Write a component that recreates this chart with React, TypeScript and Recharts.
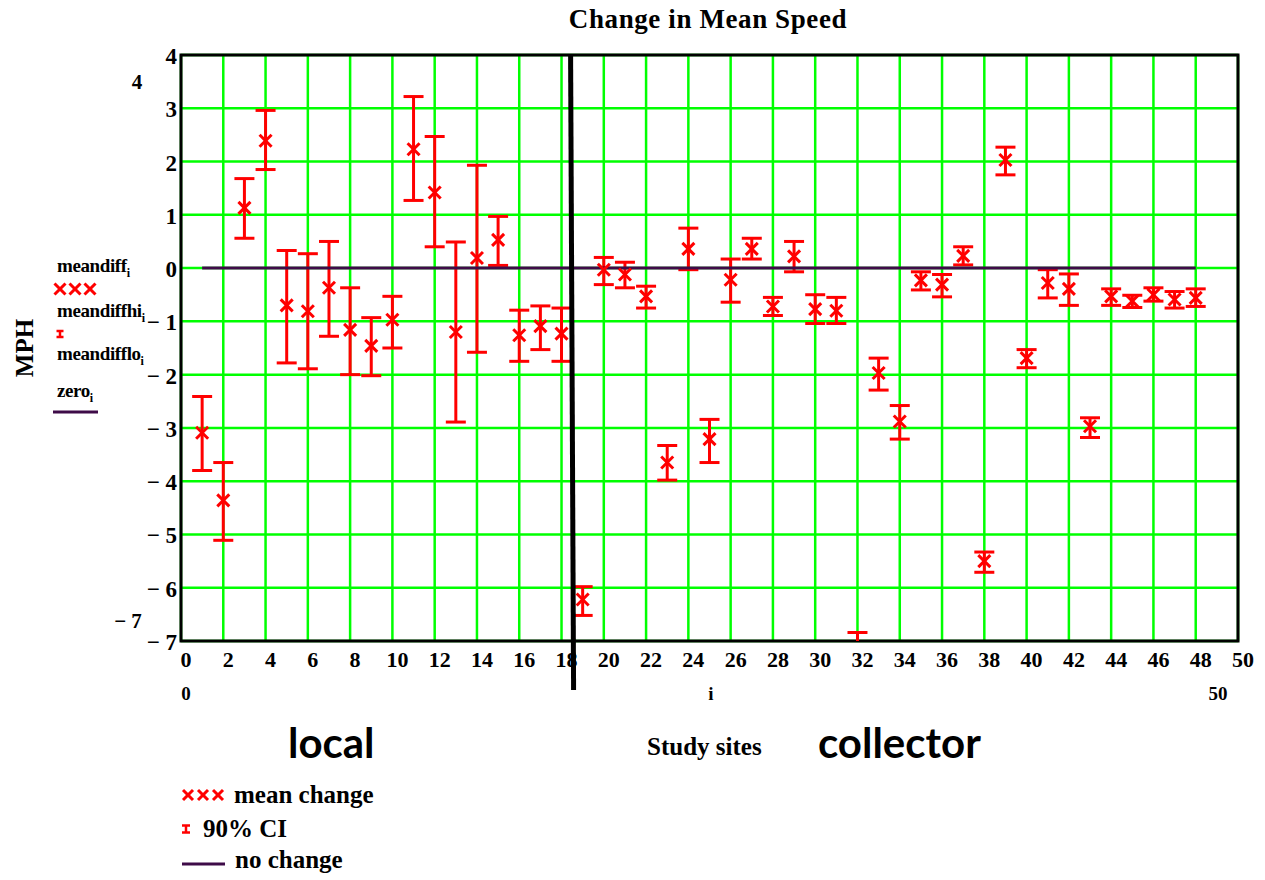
import React from "react";
import {
  ComposedChart,
  Scatter,
  Line,
  XAxis,
  YAxis,
  CartesianGrid,
  ErrorBar,
  ReferenceLine,
  ReferenceArea
} from "recharts";

// study site index
const sites = [
  1, 2, 3, 4, 5, 6, 7, 8, 9, 10, 11, 12, 13, 14, 15, 16, 17, 18, 19, 20, 21, 22, 23, 24,
  25, 26, 27, 28, 29, 30, 31, 32, 33, 34, 35, 36, 37, 38, 39, 40, 41, 42, 43, 44, 45, 46, 47, 48
];

// mean change in speed (mph) per site
const meanChange = [
  -3.09, -4.36, 1.13, 2.39, -0.7, -0.81, -0.37, -1.16, -1.46, -0.97, 2.23, 1.42,
  -1.2, 0.19, 0.53, -1.26, -1.09, -1.23, -6.22, -0.03, -0.12, -0.53, -3.65, 0.36,
  -3.21, -0.22, 0.36, -0.72, 0.22, -0.77, -0.8, -7.15, -1.97, -2.88, -0.23, -0.31,
  0.23, -5.5, 2.03, -1.69, -0.28, -0.39, -2.97, -0.53, -0.62, -0.5, -0.59, -0.56
];

// upper end of the 90% CI
const ciHigh = [
  -2.41, -3.65, 1.68, 2.96, 0.33, 0.27, 0.5, -0.37, -0.93, -0.53, 3.22, 2.47,
  0.49, 1.93, 0.97, -0.79, -0.71, -0.75, -5.98, 0.2, 0.11, -0.34, -3.33, 0.75,
  -2.84, 0.17, 0.56, -0.55, 0.5, -0.5, -0.55, -6.84, -1.69, -2.58, -0.07, -0.12,
  0.4, -5.33, 2.27, -1.53, -0.03, -0.11, -2.81, -0.39, -0.51, -0.37, -0.44, -0.39
];

// lower end of the 90% CI
const ciLow = [
  -3.8, -5.11, 0.56, 1.85, -1.78, -1.89, -1.28, -2.0, -2.02, -1.5, 1.27, 0.4,
  -2.89, -1.58, 0.05, -1.75, -1.53, -1.75, -6.52, -0.31, -0.37, -0.75, -3.98, -0.03,
  -3.65, -0.64, 0.17, -0.89, -0.07, -1.04, -1.04, -7.45, -2.29, -3.21, -0.41, -0.54,
  0.06, -5.71, 1.75, -1.87, -0.56, -0.7, -3.18, -0.7, -0.74, -0.62, -0.75, -0.72
];

const noChange = 0;
const xTicks = [0, 2, 4, 6, 8, 10, 12, 14, 16, 18, 20, 22, 24, 26, 28, 30, 32, 34, 36, 38, 40, 42, 44, 46, 48, 50];
const yTicks = [4, 3, 2, 1, 0, -1, -2, -3, -4, -5, -6, -7];
const localCollectorSplit = 18.5;

const rows = sites.map((site, k) => ({
  site,
  mean: meanChange[k],
  err: [meanChange[k] - ciLow[k], ciHigh[k] - meanChange[k]],
  zero: noChange
}));

const RED = "#ff0000";
const GRID = "#00ff00";
const PURPLE = "#3e0b48";
const SERIF = "'Liberation Serif', 'Times New Roman', serif";

// plot box, used to clip error bars that run off the y range
const PLOT = { left: 181, top: 55, width: 1057, height: 586 };

const CrossMark = (props: any) => {
  const { cx, cy } = props;
  if (cx == null || cy == null) return null;
  const h = 6;
  return (
    <g>
      <line x1={cx - h} y1={cy - h} x2={cx + h} y2={cy + h} stroke={RED} strokeWidth={3} />
      <line x1={cx - h} y1={cy + h} x2={cx + h} y2={cy - h} stroke={RED} strokeWidth={3} />
    </g>
  );
};

const XTick = (props: any) => {
  const { x, y, payload } = props;
  return (
    <text x={x + 5} y={y + 26} textAnchor="middle" fontFamily={SERIF} fontWeight="bold" fontSize={22} fill="#000">
      {payload.value}
    </text>
  );
};

const YTick = (props: any) => {
  const { x, y, payload } = props;
  const v = payload.value;
  const label = v < 0 ? "\u2212 " + Math.abs(v) : String(v);
  return (
    <text x={x - 4} y={y + 9} textAnchor="end" fontFamily={SERIF} fontWeight="bold" fontSize={23} fill="#000">
      {label}
    </text>
  );
};

// divider between local and collector sites, runs past the axis
const Divider = (props: any) => {
  const { x1, y1, x2, y2 } = props;
  const top = Math.min(y1, y2);
  const bottom = Math.max(y1, y2) + 49;
  return <line x1={x1 - 1.5} y1={top} x2={x2 + 1.5} y2={bottom} stroke="#000" strokeWidth={5} />;
};

const Xs = ({ x, y, h, gap }: { x: number; y: number; h: number; gap: number }) => (
  <g stroke={RED} strokeWidth={3}>
    {[0, 1, 2].map((k) => (
      <g key={k}>
        <line x1={x + k * gap - h} y1={y - h} x2={x + k * gap + h} y2={y + h} />
        <line x1={x + k * gap - h} y1={y + h} x2={x + k * gap + h} y2={y - h} />
      </g>
    ))}
  </g>
);

const IBar = ({ x, y, w, h }: { x: number; y: number; w: number; h: number }) => (
  <g stroke={RED} strokeWidth={2.5}>
    <line x1={x - w / 2} y1={y - h / 2} x2={x + w / 2} y2={y - h / 2} />
    <line x1={x} y1={y - h / 2} x2={x} y2={y + h / 2} />
    <line x1={x - w / 2} y1={y + h / 2} x2={x + w / 2} y2={y + h / 2} />
  </g>
);

export default function App() {
  const txt = { fontFamily: SERIF, fontWeight: "bold" as const, fill: "#000" };
  const legendTxt = { ...txt, fontSize: 19, letterSpacing: -0.4 };
  return (
    <div style={{ position: "absolute", left: 0, top: 0, width: 1265, height: 880, background: "#fff" }}>
      <svg width={0} height={0} style={{ position: "absolute" }}>
        <defs>
          <clipPath id="plotBox" clipPathUnits="userSpaceOnUse">
            <rect x={PLOT.left} y={PLOT.top} width={PLOT.width} height={PLOT.height} />
          </clipPath>
        </defs>
      </svg>
      <ComposedChart
        width={1265}
        height={880}
        data={rows}
        margin={{ top: 55, right: 27, bottom: 209, left: 0 }}
      >
        <CartesianGrid stroke={GRID} strokeWidth={2.5} />
        <XAxis
          dataKey="site"
          type="number"
          domain={[0, 50]}
          ticks={xTicks}
          interval={0}
          height={30}
          axisLine={false}
          tickLine={false}
          tickSize={0}
          tickMargin={0}
          tick={<XTick />}
          allowDataOverflow
        />
        <YAxis
          type="number"
          domain={[-7, 4]}
          ticks={yTicks}
          interval={0}
          width={181}
          axisLine={false}
          tickLine={false}
          tickSize={0}
          tickMargin={0}
          tick={<YTick />}
          allowDataOverflow
        />
        <Scatter dataKey="mean" shape={CrossMark} fill={RED} isAnimationActive={false}>
          <ErrorBar
            dataKey="err"
            direction="y"
            width={10}
            stroke={RED}
            strokeWidth={3}
            clipPath="url(#plotBox)"
            isAnimationActive={false}
          />
        </Scatter>
        <Line dataKey="zero" stroke={PURPLE} strokeWidth={3} dot={false} activeDot={false} isAnimationActive={false} />
        <ReferenceArea x1={0} x2={50} y1={-7} y2={4} fill="none" fillOpacity={0} stroke="#000" strokeWidth={3} />
        <ReferenceLine x={localCollectorSplit} stroke="#000" strokeWidth={5} shape={Divider} />
      </ComposedChart>

      <svg width={1265} height={880} style={{ position: "absolute", left: 0, top: 0, pointerEvents: "none" }}>
        <text x={708} y={28} textAnchor="middle" fontSize={27} letterSpacing={0.6} {...txt}>Change in Mean Speed</text>
        <text transform="translate(33,348) rotate(-90)" textAnchor="middle" fontSize={25} {...txt}>MPH</text>

        <text x={137} y={89} textAnchor="middle" fontSize={21} {...txt}>4</text>
        <text x={128} y={628} textAnchor="middle" fontSize={21} {...txt}>{"\u2212 7"}</text>
        <text x={186} y={700} textAnchor="middle" fontSize={19} {...txt}>0</text>
        <text x={711} y={700} textAnchor="middle" fontSize={19} {...txt}>i</text>
        <text x={1218} y={700} textAnchor="middle" fontSize={19} {...txt}>50</text>

        <text x={57} y={272} {...legendTxt}>meandiff<tspan fontSize={12} dy={5}>i</tspan></text>
        <Xs x={60} y={289} h={5.5} gap={15} />
        <text x={57} y={317} {...legendTxt}>meandiffhi<tspan fontSize={12} dy={5}>i</tspan></text>
        <IBar x={60} y={334} w={7} h={6} />
        <text x={57} y={360} {...legendTxt}>meandifflo<tspan fontSize={12} dy={5}>i</tspan></text>
        <text x={57} y={397} {...legendTxt}>zero<tspan fontSize={12} dy={5}>i</tspan></text>
        <line x1={53} y1={412} x2={98} y2={412} stroke={PURPLE} strokeWidth={3} />

        <text x={288} y={758} fontSize={42} fontFamily="Lato, 'Open Sans', sans-serif" fontWeight="bold" fill="#000">local</text>
        <text x={647} y={755} fontSize={25} {...txt}>Study sites</text>
        <text x={818} y={758} fontSize={42} fontFamily="Lato, 'Open Sans', sans-serif" fontWeight="bold" fill="#000">collector</text>

        <Xs x={188} y={795} h={5} gap={15} />
        <text x={234} y={803} fontSize={25} {...txt}>mean change</text>
        <IBar x={186} y={829} w={8} h={7} />
        <text x={203} y={837} fontSize={25} {...txt}>90% CI</text>
        <line x1={182} y1={864} x2={225} y2={864} stroke={PURPLE} strokeWidth={3} />
        <text x={235} y={868} fontSize={25} {...txt}>no change</text>
      </svg>
    </div>
  );
}
